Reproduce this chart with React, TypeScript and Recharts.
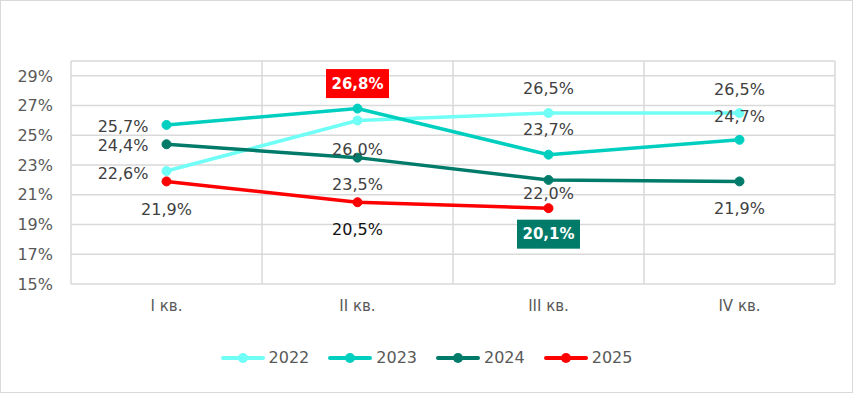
import React from 'react';
import { LineChart, Line, XAxis, YAxis, CartesianGrid, ReferenceLine, Legend, LabelList } from 'recharts';

const categories = ['I кв.', 'II кв.', 'III кв.', 'IV кв.'];
const s2022 = [22.6, 26.0, 26.5, 26.5];
const s2023 = [25.7, 26.8, 23.7, 24.7];
const s2024 = [24.4, 23.5, 22.0, 21.9];
const s2025: (number | null)[] = [21.9, 20.5, 20.1, null];
const yTicks = [15, 17, 19, 21, 23, 25, 27, 29];
const yDomain = [15, 30];
const seriesNames = ['2022', '2023', '2024', '2025'];

const colors: Record<string, string> = {
  '2022': '#6FFFF6',
  '2023': '#00CFC0',
  '2024': '#007B6A',
  '2025': '#FF0000',
};

type LabelStyle = { left?: boolean; dy: number; box?: string; color?: string };
const labelStyles: Record<string, LabelStyle[]> = {
  '2022': [{ left: true, dy: 2 }, { dy: 29 }, { dy: -25 }, { dy: -24 }],
  '2023': [{ left: true, dy: 2 }, { dy: -25, box: '#FF0000' }, { dy: -25 }, { dy: -23 }],
  '2024': [{ left: true, dy: 1 }, { dy: 27 }, { dy: 14 }, { dy: 27 }],
  '2025': [{ dy: 28 }, { dy: 27, color: '#111111' }, { dy: 26, box: '#007B6A' }, { dy: 0 }],
};

const data = categories.map((c, i) => ({
  x: i + 0.5,
  cat: c,
  '2022': s2022[i],
  '2023': s2023[i],
  '2024': s2024[i],
  '2025': s2025[i],
}));

const FONT = '"DejaVu Sans", sans-serif';
const fmt = (v: number) => v.toFixed(1).replace('.', ',') + '%';

const makeLabel = (name: string) => (props: any) => {
  const { x, y, value, index } = props;
  if (value == null || x == null || y == null) return null;
  const st = labelStyles[name][index];
  const text = fmt(Number(value));
  if (st.box) {
    const w = 63, h = 29;
    return (
      <g>
        <rect x={x - w / 2} y={y + st.dy - h / 2} width={w} height={h} fill={st.box} />
        <text x={x} y={y + st.dy} textAnchor="middle" dominantBaseline="central" fill="#ffffff"
          fontSize={15} fontWeight={700} fontFamily={FONT}>{text}</text>
      </g>
    );
  }
  return (
    <text x={st.left ? x - 18 : x} y={y + st.dy} textAnchor={st.left ? 'end' : 'middle'}
      dominantBaseline="central" fill={st.color || '#404040'} fontSize={16} fontFamily={FONT}>
      {text}
    </text>
  );
};

const renderLegend = () => (
  <div style={{ display: 'flex', justifyContent: 'center', gap: 19, fontFamily: FONT, fontSize: 16, color: '#595959' }}>
    {seriesNames.map((n) => (
      <div key={n} style={{ display: 'flex', alignItems: 'center', gap: 4 }}>
        <svg width={44} height={12}>
          <line x1={2} y1={6} x2={42} y2={6} stroke={colors[n]} strokeWidth={4} strokeLinecap="round" />
          <circle cx={22} cy={6} r={5} fill={colors[n]} />
        </svg>
        <span>{n}</span>
      </div>
    ))}
  </div>
);

export default function App() {
  const bounds = categories.map((_, i) => i).concat([categories.length]);
  return (
    <div style={{ position: 'absolute', left: 0, top: 0, width: 853, height: 393, boxSizing: 'border-box', border: '1px solid #d9d9d9', background: '#fff' }}>
      <LineChart width={851} height={391} data={data} margin={{ top: 60, right: 17, bottom: 78, left: 0 }}>
        <CartesianGrid vertical={false} stroke="#d9d9d9" strokeWidth={1.5} />
        {bounds.map((b) => (
          <ReferenceLine key={b} x={b} stroke="#d9d9d9" strokeWidth={1.5} />
        ))}
        <XAxis dataKey="x" type="number" domain={[0, categories.length]} ticks={data.map((d) => d.x)}
          tickFormatter={(v: number) => categories[Math.floor(v)]} axisLine={false} tickLine={false}
          tickMargin={10} tick={{ fill: '#595959', fontSize: 15, fontFamily: FONT }} />
        <YAxis type="number" domain={yDomain} ticks={yTicks} tickFormatter={(v: number) => v + '%'}
          axisLine={false} tickLine={false} width={70} tickMargin={12} interval={0}
          tick={{ fill: '#595959', fontSize: 16, fontFamily: FONT }} />
        <Legend layout="horizontal" verticalAlign="middle" align="center" content={renderLegend}
          wrapperStyle={{ top: 347, left: 0, width: 851 }} />
        {seriesNames.map((n) => (
          <Line key={n} dataKey={n} stroke={colors[n]} strokeWidth={3.5} isAnimationActive={false}
            dot={{ r: 4.5, fill: colors[n], stroke: colors[n], strokeWidth: 1 }} activeDot={false}>
            <LabelList dataKey={n} content={makeLabel(n)} />
          </Line>
        ))}
      </LineChart>
    </div>
  );
}
